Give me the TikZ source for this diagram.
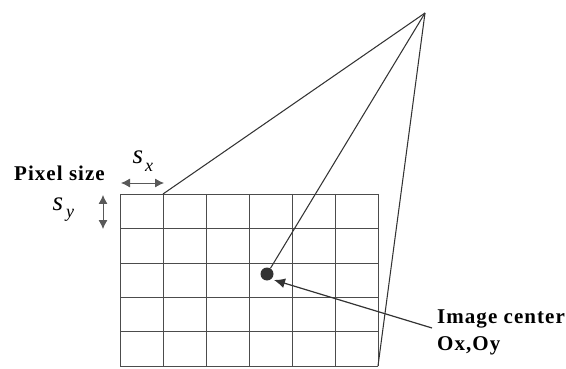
\documentclass[tikz,border=0pt]{standalone}
\usepackage{fontspec}
\setmainfont{Liberation Serif}
\usepackage{tikz}
\usetikzlibrary{
  positioning,
  arrows.meta
}
\tikzset{
  >=Latex,
  gridline/.style={draw=black!70,line width=0.95pt},
  rayline/.style={draw=black!80,line width=1.05pt},
  sizearrow/.style={{Latex[length=9pt,width=9pt]}-{Latex[length=9pt,width=9pt]},draw=black!65,line width=0.8pt},
  centerarrow/.style={-{Latex[length=11pt,width=10pt]},draw=black!80,line width=1.2pt},
  lbl/.style={font=\fontsize{21}{26.5}\selectfont\bfseries\addfontfeature{LetterSpace=5},align=left,inner sep=0pt},
  symb/.style={font=\fontsize{27}{30}\selectfont\itshape,inner sep=0pt},
  subsymb/.style={font=\fontsize{18}{20}\selectfont\itshape,inner sep=0pt}
}

\begin{document}
\begin{tikzpicture}[x=1pt,y=-1pt]
    \useasboundingbox (0,0) rectangle (566,369);
    % Grid
    \foreach \x in {120,163,206,249,292,335,378}
        \draw[gridline] (\x,194) -- (\x,366);
    \foreach \y in {194,228,263,297,331,366}
        \draw[gridline] (120,\y) -- (378,\y);

    \coordinate (apex) at (425,13);
    \coordinate (gridtop) at (163,194);
    \coordinate (gridcorner) at (378,366);
    \node[circle,fill=black!80,minimum size=13pt,inner sep=0pt] (center) at (267,274) {};

    \draw[rayline] (apex) -- (gridtop);
    \draw[rayline] (apex) -- (center);
    \draw[rayline] (apex) -- (gridcorner);

    % Labels
    \node[lbl,anchor=west] (pixel) at (14,173) {Pixel size};
    \node[lbl,anchor=north west] (image) at (437,310) {Image center\\Ox,Oy};
    \coordinate (imagetail) at (432,328);
    \coordinate (imagehead) at (274,280);
    \draw[centerarrow] (imagetail) -- (imagehead);

    \coordinate (sxl) at (121,183);
    \coordinate (sxr) at (164,183);
    \draw[sizearrow] (sxl) -- (sxr);
    \node[symb] (sx) at (138,157) {s};
    \node[subsymb] (sxsub) at (149,167) {x};

    \coordinate (syt) at (103,195);
    \coordinate (syb) at (103,229);
    \draw[sizearrow] (syt) -- (syb);
    \node[symb] (sy) at (58,204) {s};
    \node[subsymb] (sysub) at (70,215) {y};
\end{tikzpicture}
\end{document}
